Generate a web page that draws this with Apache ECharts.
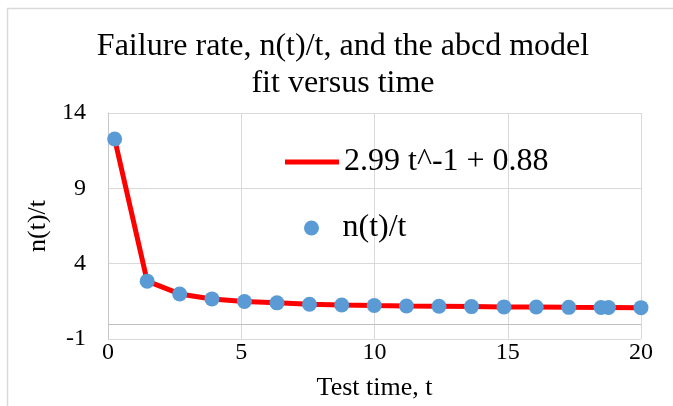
<!DOCTYPE html>
<html>
<head>
<meta charset="utf-8">
<script src="https://cdn.jsdelivr.net/npm/echarts@6/dist/echarts.min.js"></script>
<style>html,body{margin:0;padding:0;background:#fff;}#c{width:673px;height:406px;}</style>
</head>
<body>
<div id="c"></div>
<script>
const titleText = 'Failure rate, n(t)/t, and the abcd model\nfit versus time';
const xAxisName = 'Test time, t';
const yAxisName = 'n(t)/t';
const fitName = '2.99 t^-1 + 0.88';
const obsName = 'n(t)/t';
const tValues = [0.25, 1.47, 2.69, 3.9, 5.12, 6.34, 7.56, 8.77, 9.99, 11.2, 12.42, 13.64, 14.86, 16.07, 17.29, 18.5, 18.78, 20];
const observed = [12.27, 2.84, 1.99, 1.66, 1.49, 1.40, 1.31, 1.26, 1.22, 1.19, 1.17, 1.15, 1.13, 1.12, 1.10, 1.09, 1.09, 1.08];
const fitValues = [12.27, 2.84, 1.99, 1.66, 1.49, 1.40, 1.31, 1.26, 1.22, 1.19, 1.17, 1.15, 1.13, 1.12, 1.10, 1.09, 1.09, 1.08];
const xTicks = {min: 0, max: 20, interval: 5};
const yTicks = {min: -1, max: 14, interval: 5};

const FONT = "'Liberation Serif', 'Times New Roman', serif";
const chart = echarts.init(document.getElementById('c'), null, {renderer: 'canvas'});
chart.setOption({
  animation: false,
  backgroundColor: '#fff',
  textStyle: {fontFamily: FONT, color: '#000'},
  graphic: [{
    type: 'rect', silent: true,
    shape: {x: 7.5, y: 8.5, width: 700, height: 420},
    style: {fill: 'none', stroke: '#d9d9d9', lineWidth: 1.5}
  }],
  title: {
    text: titleText,
    left: 343, top: 28, textAlign: 'center', padding: 0,
    textStyle: {fontFamily: FONT, fontSize: 32, fontWeight: 'normal', color: '#000', lineHeight: 37}
  },
  legend: [{
    data: [fitName], left: 285, top: 146, padding: 0,
    icon: 'rect', itemWidth: 54, itemHeight: 5,
    textStyle: {fontFamily: FONT, fontSize: 32, color: '#000'}
  }, {
    data: [obsName], left: 304, top: 212, padding: 0,
    icon: 'circle', itemWidth: 52, itemHeight: 15,
    textStyle: {fontFamily: FONT, fontSize: 32, color: '#000'}
  }],
  grid: {left: 108, right: 32, top: 113, bottom: 64, containLabel: false},
  xAxis: {
    type: 'value', min: xTicks.min, max: xTicks.max, interval: xTicks.interval,
    name: xAxisName, nameLocation: 'middle', nameGap: 36,
    nameTextStyle: {fontFamily: FONT, fontSize: 26, color: '#000'},
    axisLine: {show: false, onZero: false},
    axisTick: {show: false},
    axisLabel: {fontFamily: FONT, fontSize: 24, color: '#000', margin: 2},
    splitLine: {show: true, lineStyle: {color: '#d9d9d9', width: 1}}
  },
  yAxis: {
    type: 'value', min: yTicks.min, max: yTicks.max, interval: yTicks.interval,
    name: yAxisName, nameLocation: 'middle', nameGap: 54,
    nameTextStyle: {fontFamily: FONT, fontSize: 26, color: '#000'},
    axisLine: {show: true, lineStyle: {color: '#c8c8c8', width: 1}},
    axisTick: {show: false},
    axisLabel: {fontFamily: FONT, fontSize: 24, color: '#000', margin: 22},
    splitLine: {show: true, lineStyle: {color: '#d9d9d9', width: 1}}
  },
  series: [{
    name: fitName, type: 'line',
    data: tValues.map((t, i) => [t, fitValues[i]]),
    showSymbol: false, symbol: 'none',
    lineStyle: {color: '#ff0000', width: 5},
    itemStyle: {color: '#ff0000'},
    z: 2,
    markLine: {
      silent: true, symbol: 'none', label: {show: false},
      lineStyle: {color: '#bfbfbf', width: 1, type: 'solid'},
      data: [{yAxis: 0}]
    }
  }, {
    name: obsName, type: 'scatter',
    data: tValues.map((t, i) => [t, observed[i]]),
    symbol: 'circle', symbolSize: 15,
    itemStyle: {color: '#5b9bd5', opacity: 1},
    z: 3
  }]
});
</script>
</body>
</html>
